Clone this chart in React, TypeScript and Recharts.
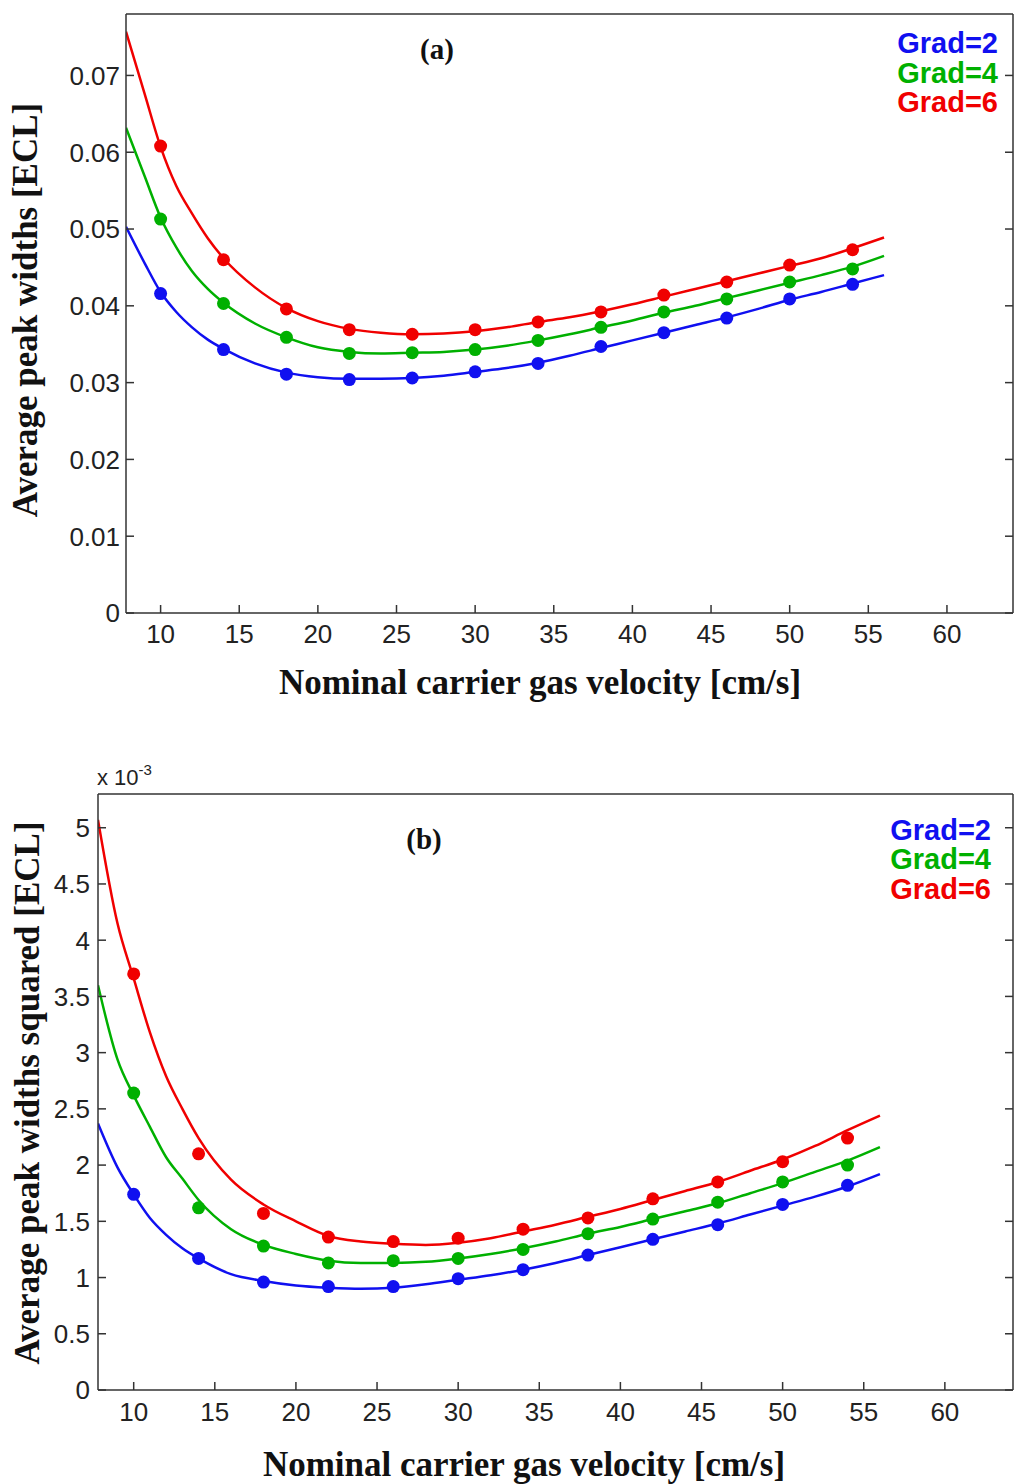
import React from "react";
import { ComposedChart, Line, Scatter, XAxis, YAxis, Customized } from "recharts";

// velocities [cm/s]
const measuredVelocity = [10, 14, 18, 22, 26, 30, 34, 38, 42, 46, 50, 54];
const fitVelocity = [7.8, 9, 10, 11, 12, 13, 14, 16, 18, 20, 22, 24, 26, 28, 30, 32, 34, 36, 38, 40, 42, 44, 46, 48, 50, 52, 54, 56];
const velocityTicks = [10, 15, 20, 25, 30, 35, 40, 45, 50, 55, 60];

// (a) average peak widths [ECL]
const widthTicks = [0, 0.01, 0.02, 0.03, 0.04, 0.05, 0.06, 0.07];
const widthGrad2 = [0.0416, 0.0343, 0.0311, 0.0304, 0.0306, 0.0314, 0.0325, 0.0347, 0.0365, 0.0384, 0.0409, 0.0428];
const widthGrad4 = [0.0513, 0.0403, 0.0359, 0.0338, 0.0339, 0.0343, 0.0355, 0.0372, 0.0392, 0.0409, 0.0431, 0.0448];
const widthGrad6 = [0.0608, 0.046, 0.0396, 0.0369, 0.0363, 0.0369, 0.0379, 0.0392, 0.0414, 0.0431, 0.0453, 0.0473];
const widthFitGrad2 = [0.0503, 0.0455, 0.0418, 0.0392, 0.0372, 0.0356, 0.0344, 0.0325, 0.0313, 0.0307, 0.0305, 0.0305, 0.0306, 0.0309, 0.0314, 0.0319, 0.0326, 0.0335, 0.0345, 0.0355, 0.0365, 0.0375, 0.0385, 0.0396, 0.0408, 0.0418, 0.0429, 0.044];
const widthFitGrad4 = [0.0632, 0.0568, 0.0515, 0.0476, 0.0445, 0.0422, 0.0404, 0.0377, 0.0359, 0.0346, 0.034, 0.0338, 0.0339, 0.034, 0.0343, 0.0348, 0.0355, 0.0363, 0.0372, 0.0381, 0.0391, 0.04, 0.041, 0.042, 0.043, 0.044, 0.0451, 0.0465];
const widthFitGrad6 = [0.0757, 0.0675, 0.0607, 0.0556, 0.052, 0.0488, 0.0462, 0.0424, 0.0397, 0.038, 0.037, 0.0365, 0.0363, 0.0364, 0.0367, 0.0372, 0.0379, 0.0385, 0.0393, 0.0402, 0.0412, 0.0422, 0.0432, 0.0442, 0.0452, 0.0462, 0.0475, 0.0489];

// (b) average peak widths squared [ECL] x 10^-3
const sqTicks = [0, 0.5, 1, 1.5, 2, 2.5, 3, 3.5, 4, 4.5, 5];
const sqGrad2 = [1.74, 1.17, 0.96, 0.92, 0.92, 0.99, 1.07, 1.2, 1.34, 1.47, 1.65, 1.82];
const sqGrad4 = [2.64, 1.62, 1.28, 1.13, 1.15, 1.17, 1.25, 1.39, 1.52, 1.67, 1.85, 2.0];
const sqGrad6 = [3.7, 2.1, 1.57, 1.36, 1.32, 1.35, 1.43, 1.53, 1.7, 1.85, 2.03, 2.24];
const sqFitGrad2 = [2.37, 1.98, 1.74, 1.53, 1.38, 1.26, 1.17, 1.03, 0.97, 0.93, 0.91, 0.9, 0.91, 0.94, 0.98, 1.02, 1.07, 1.13, 1.2, 1.27, 1.34, 1.41, 1.48, 1.56, 1.64, 1.72, 1.81, 1.92];
const sqFitGrad4 = [3.6, 2.94, 2.62, 2.34, 2.07, 1.88, 1.69, 1.43, 1.29, 1.21, 1.15, 1.13, 1.13, 1.14, 1.17, 1.21, 1.26, 1.32, 1.39, 1.45, 1.52, 1.59, 1.66, 1.75, 1.84, 1.94, 2.04, 2.16];
const sqFitGrad6 = [5.07, 4.15, 3.66, 3.18, 2.79, 2.5, 2.24, 1.87, 1.65, 1.5, 1.37, 1.32, 1.3, 1.29, 1.31, 1.35, 1.41, 1.47, 1.54, 1.61, 1.69, 1.77, 1.85, 1.95, 2.05, 2.17, 2.31, 2.44];

const gradLabels = ["Grad=2", "Grad=4", "Grad=6"];
const colors = ["#1010f0", "#00b000", "#f00000"];

const toPoints = (xs: number[], ys: number[]) => xs.map((x, i) => ({ x, y: ys[i] }));

const AXIS = "#333";
const SANS = "Liberation Sans, Arial, sans-serif";
const TITLE_FONT = "Liberation Serif, Times New Roman, serif";

interface PanelProps {
  width: number;
  height: number;
  margin: { top: number; right: number; bottom: number; left: number };
  yDomain: [number, number];
  yTicks: number[];
  yFormat: (v: number) => string;
  dots: number[][];
  fits: number[][];
  yLabelDx: number;
  xLabelDy: number;
  overlay: () => React.ReactNode;
}

function Panel(p: PanelProps) {
  // mirrored axes give MATLAB style inward ticks; labels are moved back outside
  const xTick = (t: any) => (
    <text x={t.x} y={t.y + p.xLabelDy} textAnchor="middle" fontFamily={SANS} fontSize={26} fill="#222">
      {t.payload.value}
    </text>
  );
  const yTick = (t: any) => (
    <text x={t.x + p.yLabelDx} y={t.y} dy="0.36em" textAnchor="end" fontFamily={SANS} fontSize={26} fill="#222">
      {p.yFormat(t.payload.value)}
    </text>
  );
  return (
    <ComposedChart width={p.width} height={p.height} margin={p.margin}>
      <XAxis
        dataKey="x"
        type="number"
        domain={[7.8, 64.2]}
        ticks={velocityTicks}
        allowDataOverflow
        mirror
        height={1}
        stroke={AXIS}
        strokeWidth={1.5}
        tickSize={8}
        tickMargin={0}
        tick={xTick}
      />
      <XAxis
        xAxisId="top"
        orientation="top"
        type="number"
        domain={[7.8, 64.2]}
        ticks={velocityTicks}
        allowDataOverflow
        mirror
        height={1}
        stroke={AXIS}
        strokeWidth={1.5}
        tickSize={8}
        tickFormatter={() => ""}
      />
      <YAxis
        dataKey="y"
        type="number"
        domain={p.yDomain}
        ticks={p.yTicks}
        allowDataOverflow
        mirror
        width={1}
        stroke={AXIS}
        strokeWidth={1.5}
        tickSize={8}
        tickMargin={0}
        tick={yTick}
      />
      <YAxis
        yAxisId="right"
        orientation="right"
        type="number"
        domain={p.yDomain}
        ticks={p.yTicks}
        allowDataOverflow
        mirror
        width={1}
        stroke={AXIS}
        strokeWidth={1.5}
        tickSize={8}
        tickFormatter={() => ""}
      />
      {p.fits.map((f, i) => (
        <Line
          key={"fit" + i}
          data={toPoints(fitVelocity, f)}
          dataKey="y"
          type="monotone"
          stroke={colors[i]}
          strokeWidth={2.5}
          dot={false}
          activeDot={false}
          isAnimationActive={false}
        />
      ))}
      {p.dots.map((d, i) => (
        <Scatter
          key={"dots" + i}
          data={toPoints(measuredVelocity, d)}
          dataKey="y"
          isAnimationActive={false}
          shape={(s: any) => <circle cx={s.cx} cy={s.cy} r={6.5} fill={colors[i]} />}
        />
      ))}
      <Customized component={p.overlay} />
    </ComposedChart>
  );
}

function Legend(right: number, baselines: number[]) {
  return gradLabels.map((t, i) => (
    <text key={t} x={right} y={baselines[i]} textAnchor="end" fontFamily={SANS} fontWeight="bold" fontSize={29} fill={colors[i]}>
      {t}
    </text>
  ));
}

const overlayA = () => (
  <g>
    <text x={437} y={59} textAnchor="middle" fontFamily={TITLE_FONT} fontWeight="bold" fontSize={29} fill="#111">(a)</text>
    {Legend(998, [53, 83, 112])}
    <text x={540} y={694} textAnchor="middle" fontFamily={TITLE_FONT} fontWeight="bold" fontSize={35} fill="#111">
      Nominal carrier gas velocity [cm/s]
    </text>
    <text transform="translate(37,310) rotate(-90)" textAnchor="middle" fontFamily={TITLE_FONT} fontWeight="bold" fontSize={35} fill="#111">
      Average peak widths [ECL]
    </text>
  </g>
);

const overlayB = () => (
  <g>
    <text x={97} y={45} fontFamily={SANS} fontSize={22} fill="#222">
      x 10<tspan dy={-10} fontSize={15}>-3</tspan>
    </text>
    <text x={424} y={109} textAnchor="middle" fontFamily={TITLE_FONT} fontWeight="bold" fontSize={29} fill="#111">(b)</text>
    {Legend(991, [100, 129, 159])}
    <text x={524} y={736} textAnchor="middle" fontFamily={TITLE_FONT} fontWeight="bold" fontSize={35} fill="#111">
      Nominal carrier gas velocity [cm/s]
    </text>
    <text transform="translate(39,353) rotate(-90)" textAnchor="middle" fontFamily={TITLE_FONT} fontWeight="bold" fontSize={35} fill="#111">
      Average peak widths squared [ECL]
    </text>
  </g>
);

export default function App() {
  return (
    <div style={{ position: "absolute", left: 0, top: 0, width: 1014, height: 1484, background: "#fff", overflow: "hidden" }}>
      <div style={{ position: "absolute", left: 0, top: 0 }}>
        <Panel
          width={1014}
          height={720}
          margin={{ top: 14, right: 1, bottom: 107, left: 126 }}
          yDomain={[0, 0.078]}
          yTicks={widthTicks}
          yFormat={(v) => (v === 0 ? "0" : v.toFixed(2))}
          dots={[widthGrad2, widthGrad4, widthGrad6]}
          fits={[widthFitGrad2, widthFitGrad4, widthFitGrad6]}
          yLabelDx={-14}
          xLabelDy={38}
          overlay={overlayA}
        />
      </div>
      <div style={{ position: "absolute", left: 0, top: 740 }}>
        <Panel
          width={1014}
          height={744}
          margin={{ top: 54, right: 1, bottom: 94, left: 98 }}
          yDomain={[0, 5.3]}
          yTicks={sqTicks}
          yFormat={(v) => String(v)}
          dots={[sqGrad2, sqGrad4, sqGrad6]}
          fits={[sqFitGrad2, sqFitGrad4, sqFitGrad6]}
          yLabelDx={-16}
          xLabelDy={39}
          overlay={overlayB}
        />
      </div>
    </div>
  );
}
